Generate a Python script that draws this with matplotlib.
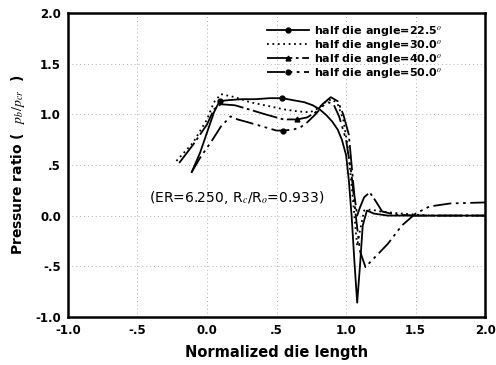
import matplotlib
matplotlib.use("Agg")
import matplotlib.pyplot as plt
from matplotlib.ticker import FixedLocator, FixedFormatter

plt.rcParams['font.family'] = ['DejaVu Sans']
plt.rcParams['mathtext.fontset'] = 'stix'

# ---- data ----
labels = ["half die angle=22.5$^o$", "half die angle=30.0$^o$",
          "half die angle=40.0$^o$", "half die angle=50.0$^o$"]

x22 = [-0.11, -0.05, 0.0, 0.05, 0.09, 0.15, 0.25, 0.35, 0.45, 0.54, 0.62, 0.70, 0.76,
       0.81, 0.86, 0.90, 0.94, 0.97, 1.00, 1.02, 1.04, 1.06, 1.08, 1.10, 1.12, 1.15,
       1.2, 1.3, 1.5, 1.7, 2.0]
y22 = [0.43, 0.62, 0.82, 1.02, 1.13, 1.14, 1.15, 1.15, 1.16, 1.16, 1.14, 1.12, 1.09,
       1.05, 0.99, 0.93, 0.85, 0.75, 0.60, 0.35, 0.0, -0.45, -0.86, -0.5, -0.1, 0.05,
       0.02, 0.0, 0.0, 0.0, 0.0]

x30 = [-0.22, -0.1, 0.0, 0.05, 0.1, 0.2, 0.31, 0.45, 0.55, 0.65, 0.74, 0.80, 0.86,
       0.90, 0.94, 0.98, 1.01, 1.04, 1.06, 1.08, 1.10, 1.13, 1.18, 1.25, 1.4, 1.6, 2.0]
y30 = [0.54, 0.72, 0.95, 1.12, 1.2, 1.17, 1.12, 1.08, 1.05, 1.03, 1.02, 1.06, 1.13,
       1.15, 1.1, 0.95, 0.7, 0.3, 0.0, -0.3, -0.15, 0.05, 0.06, 0.04, 0.02, 0.0, 0.0]

x40 = [-0.2, -0.1, 0.0, 0.05, 0.1, 0.2, 0.3, 0.42, 0.55, 0.65, 0.72, 0.78, 0.83, 0.89,
       0.94, 0.98, 1.02, 1.04, 1.06, 1.08, 1.10, 1.13, 1.17, 1.21, 1.26, 1.35, 1.5,
       1.7, 2.0]
y40 = [0.52, 0.70, 0.90, 1.05, 1.10, 1.09, 1.05, 1.0, 0.95, 0.95, 0.97, 1.02, 1.10,
       1.17, 1.13, 1.0, 0.8, 0.5, 0.2, 0.0, 0.08, 0.18, 0.23, 0.15, 0.04, 0.01, 0.0,
       0.0, 0.0]

x50 = [-0.11, -0.05, 0.04, 0.10, 0.17, 0.22, 0.3, 0.4, 0.5, 0.55, 0.62, 0.67, 0.72,
       0.78, 0.83, 0.87, 0.91, 0.95, 1.0, 1.04, 1.07, 1.10, 1.14, 1.18, 1.23, 1.3,
       1.4, 1.5, 1.6, 1.75, 2.0]
y50 = [0.43, 0.57, 0.75, 0.88, 0.98, 0.95, 0.92, 0.88, 0.84, 0.84, 0.85, 0.87, 0.92,
       1.0, 1.08, 1.12, 1.1, 0.98, 0.75, 0.4, 0.0, -0.35, -0.51, -0.45, -0.38, -0.28,
       -0.1, 0.02, 0.09, 0.12, 0.13]

xticks = [-1.0, -0.5, 0.0, 0.5, 1.0, 1.5, 2.0]
xticklabels = ["-1.0", "-.5", "0.0", ".5", "1.0", "1.5", "2.0"]
yticks = [-1.0, -0.5, 0.0, 0.5, 1.0, 1.5, 2.0]
yticklabels = ["-1.0", "-.5", "0.0", ".5", "1.0", "1.5", "2.0"]

annotation = "(ER=6.250, R$_c$/R$_o$=0.933)"

# ---- figure ----
fig = plt.figure(figsize=(4.96, 3.65), dpi=100)
ax = fig.add_axes([0.137, 0.132, 0.841, 0.832])

lw = 1.3
ax.plot(x22, y22, color='black', lw=lw, ls='-', marker='o', ms=3.5,
        markevery=[4, 9], label=labels[0])
ax.plot(x30, y30, color='black', lw=lw, ls=(0, (1, 2)), label=labels[1])
ax.plot(x40, y40, color='black', lw=lw, ls=(0, (14, 2, 1.5, 2)), marker='^', ms=3.5,
        markevery=[9], label=labels[2])
ax.plot(x50, y50, color='black', lw=lw, ls=(0, (10, 2.5, 1.5, 2.5, 1.5, 2.5)),
        marker='o', ms=3.5, markevery=[9], label=labels[3])

ax.set_xlim(-1.0, 2.0)
ax.set_ylim(-1.0, 2.0)
ax.xaxis.set_major_locator(FixedLocator(xticks))
ax.xaxis.set_major_formatter(FixedFormatter(xticklabels))
ax.yaxis.set_major_locator(FixedLocator(yticks))
ax.yaxis.set_major_formatter(FixedFormatter(yticklabels))
ax.tick_params(direction='in', length=0, labelsize=8.5, pad=5)
for lab in ax.get_xticklabels() + ax.get_yticklabels():
    lab.set_fontweight('bold')

ax.grid(True, color='#b0b0b0', ls=(0, (1, 3)), lw=0.7)
for s in ax.spines.values():
    s.set_linewidth(1.8)

ax.set_xlabel("Normalized die length", fontsize=10.5, fontweight='bold', labelpad=6)
ax.set_ylabel("Pressure ratio (  $p_b/p_{cr}$  )", fontsize=10, fontweight='bold',
              labelpad=6)

ax.text(-0.42, 0.18, annotation, fontsize=10, va='center', ha='left')

leg = ax.legend(loc='upper right', bbox_to_anchor=(0.915, 0.985), frameon=False,
                prop={'size': 8.0, 'weight': 'bold'}, handlelength=3.8,
                handletextpad=0.5, labelspacing=0.0, borderaxespad=0.2)

fig.savefig("out.png", dpi=100)
